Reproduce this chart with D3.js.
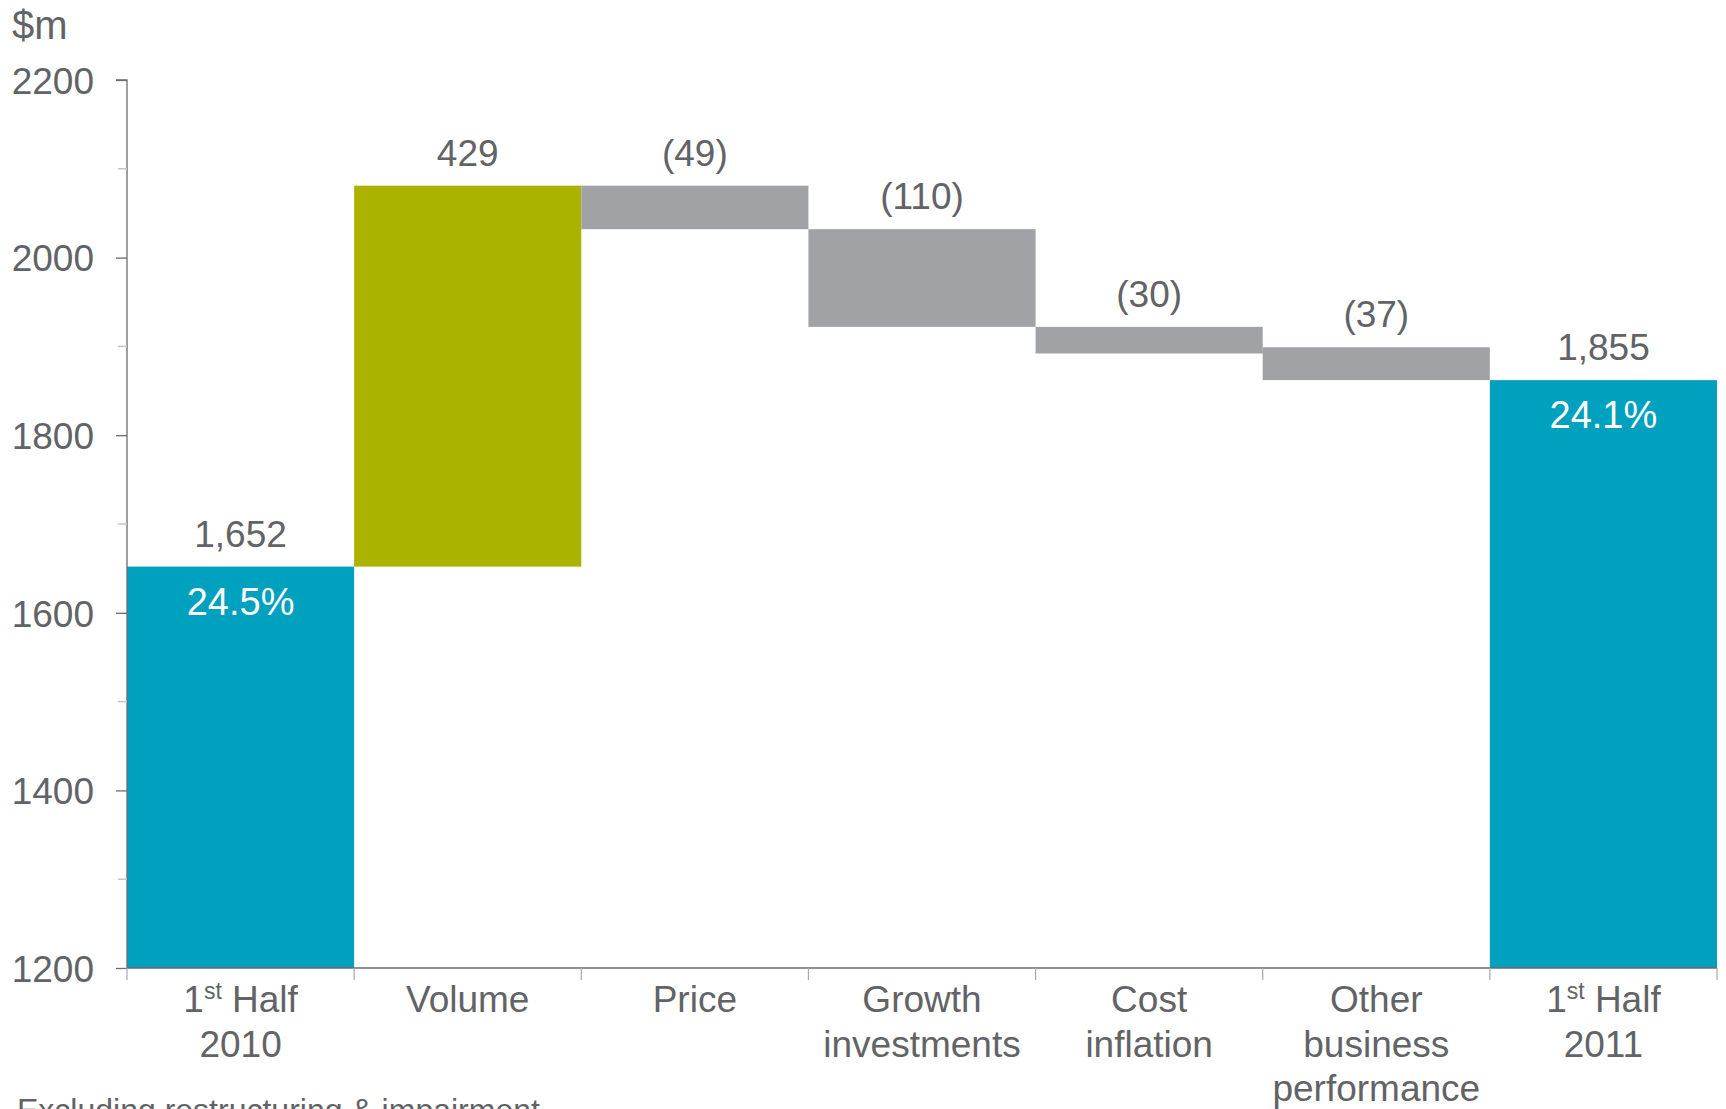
<!DOCTYPE html>
<html>
<head>
<meta charset="utf-8">
<script src="https://cdn.jsdelivr.net/npm/d3@7"></script>
<style>
  html, body { margin: 0; padding: 0; background: #fff; overflow: hidden; }
  svg { display: block; font-family: "Liberation Sans", Arial, sans-serif; }
</style>
</head>
<body>
<svg id="chart" width="1726" height="1109"></svg>
<script>
// ---- data ----
const categories = ["1st Half 2010", "Volume", "Price", "Growth investments", "Cost inflation", "Other business performance", "1st Half 2011"];
const categoryLines = [
  [["1", "st", " Half"], ["2010"]],
  [["Volume"]],
  [["Price"]],
  [["Growth"], ["investments"]],
  [["Cost"], ["inflation"]],
  [["Other"], ["business"], ["performance"]],
  [["1", "st", " Half"], ["2011"]]
];
const kinds = ["total", "increase", "decrease", "decrease", "decrease", "decrease", "total"];
// bar extents as drawn in the picture ($m)
const barStart = [1200, 1652, 2081, 2032, 1922, 1899, 1200];
const barEnd   = [1652, 2081, 2032, 1922, 1892, 1862, 1862];
const valueLabels = ["1,652", "429", "(49)", "(110)", "(30)", "(37)", "1,855"];
const marginLabels = ["24.5%", null, null, null, null, null, "24.1%"];
const yTicks = [1200, 1400, 1600, 1800, 2000, 2200];
const yMinorTicks = [1300, 1500, 1700, 1900, 2100];
const unitLabel = "$m";
const footnote = "Excluding restructuring & impairment";

// ---- styles ----
const colors = { total: "#00a0bf", increase: "#aab400", decrease: "#a1a2a5" };
const textColor = "#616366";
const axisColor = "#6b6c70";
const fs = 37;

const svg = d3.select("#chart");
const x = d3.scaleBand().domain(categories).range([127, 1717]).padding(0);
const y = d3.scaleLinear().domain([1200, 2200]).range([968, 80]);

const bars = categories.map((c, i) => ({
  cat: c, kind: kinds[i], i,
  lo: Math.min(barStart[i], barEnd[i]), hi: Math.max(barStart[i], barEnd[i])
}));

// bars
svg.append("g").selectAll("rect").data(bars).join("rect")
  .attr("x", d => x(d.cat))
  .attr("width", x.bandwidth())
  .attr("y", d => y(d.hi))
  .attr("height", d => y(d.lo) - y(d.hi))
  .attr("fill", d => colors[d.kind]);

// y axis
const yAxis = svg.append("g").attr("transform", "translate(127,0)")
  .call(d3.axisLeft(y).tickValues(yTicks).tickSize(11).tickPadding(22).tickFormat(d3.format("d")));
yAxis.select(".domain").attr("stroke", axisColor).attr("stroke-width", 1.3).attr("d", `M-11,${y(2200)}H0V${y(1200)}`);
yAxis.selectAll(".tick line").attr("stroke", axisColor).attr("stroke-width", 1.3);
yAxis.selectAll(".tick text").attr("fill", textColor).attr("font-size", fs)
  .attr("font-family", "Liberation Sans, Arial, sans-serif").attr("dy", "0.36em");

// minor ticks
svg.append("g").selectAll("line").data(yMinorTicks).join("line")
  .attr("x1", 118).attr("x2", 127)
  .attr("y1", d => y(d)).attr("y2", d => y(d))
  .attr("stroke", "#c4c5c7").attr("stroke-width", 1.5);

// x axis baseline and ticks
const xAxis = svg.append("g").attr("transform", `translate(0,${y(1200)})`)
  .call(d3.axisBottom(x).tickSize(0).tickFormat(""));
xAxis.select(".domain").attr("stroke", axisColor).attr("stroke-width", 1.3).attr("d", `M127,0H1717`);
const bounds = categories.map(c => x(c)).concat([x(categories[categories.length - 1]) + x.bandwidth()]);
xAxis.append("g").selectAll("line").data(bounds).join("line")
  .attr("x1", d => d).attr("x2", d => d).attr("y1", 0).attr("y2", 12)
  .attr("stroke", "#a7a8ab").attr("stroke-width", 1.2);

// category labels
const catG = svg.append("g").attr("fill", textColor).attr("font-size", fs).attr("text-anchor", "middle");
categoryLines.forEach((lines, i) => {
  const cx = x(categories[i]) + x.bandwidth() / 2;
  lines.forEach((parts, li) => {
    const t = catG.append("text").attr("x", cx).attr("y", 1012 + li * 44.5);
    parts.forEach((p, pi) => {
      const ts = t.append("tspan").text(p);
      if (parts.length === 3 && pi === 1) ts.attr("font-size", 23).attr("dy", -13);
      else if (parts.length === 3 && pi === 2) ts.attr("dy", 13);
    });
  });
});

// value labels
svg.append("g").selectAll("text").data(bars).join("text")
  .attr("x", d => x(d.cat) + x.bandwidth() / 2)
  .attr("y", d => y(d.hi) - 20)
  .attr("text-anchor", "middle").attr("fill", textColor).attr("font-size", fs)
  .text(d => valueLabels[d.i]);

// margin labels
svg.append("g").selectAll("text").data(bars.filter(d => marginLabels[d.i])).join("text")
  .attr("x", d => x(d.cat) + x.bandwidth() / 2)
  .attr("y", d => y(d.hi) + 48)
  .attr("text-anchor", "middle").attr("fill", "#ffffff").attr("font-size", 38)
  .text(d => marginLabels[d.i]);

// unit label
svg.append("text").attr("x", 12).attr("y", 39).attr("fill", textColor).attr("font-size", 40).text(unitLabel);

// footnote
svg.append("text").attr("x", 17).attr("y", 1121).attr("fill", textColor).attr("font-size", 32).text(footnote);
</script>
</body>
</html>
